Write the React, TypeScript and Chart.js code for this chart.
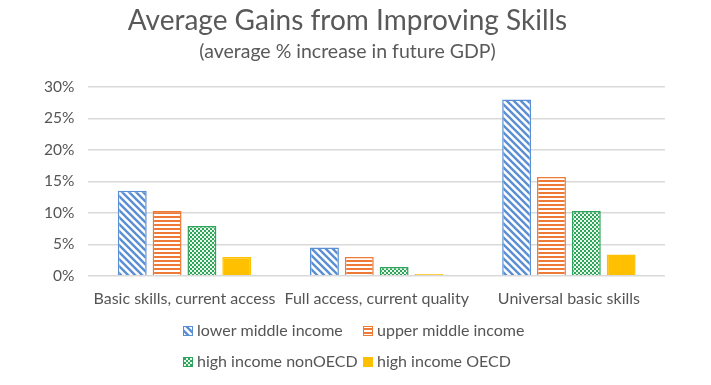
import React, { useEffect, useRef } from "react";
import { Chart, registerables } from "chart.js";

Chart.register(...registerables);

const categories = [
  "Basic skills, current access",
  "Full access, current quality",
  "Universal basic skills",
];
const seriesNames = [
  "lower middle income",
  "upper middle income",
  "high income nonOECD",
  "high income OECD",
];
const lowerMiddle = [13.5, 4.5, 28.0];
const upperMiddle = [10.3, 3.0, 15.7];
const highNonOECD = [7.9, 1.4, 10.3];
const highOECD = [3.0, 0.3, 3.4];
const yTicks = [0, 5, 10, 15, 20, 25, 30];

const FONT = "Lato, 'Open Sans', sans-serif";
const BLUE = "#5B8FD3";
const ORANGE = "#EE7A35";
const GREEN = "#2FA45A";
const YELLOW = "#FFC000";

function makePattern(kind: string): CanvasPattern | string {
  const c = document.createElement("canvas");
  const ctx = c.getContext("2d")!;
  if (kind === "diag") {
    const s = 7;
    c.width = s;
    c.height = s;
    ctx.fillStyle = "#fff";
    ctx.fillRect(0, 0, s, s);
    ctx.strokeStyle = BLUE;
    ctx.lineWidth = 2.4;
    ctx.beginPath();
    ctx.moveTo(-1, -1);
    ctx.lineTo(s + 1, s + 1);
    ctx.moveTo(-1, s - 1);
    ctx.lineTo(1, s + 1);
    ctx.moveTo(s - 1, -1);
    ctx.lineTo(s + 1, 1);
    ctx.stroke();
  } else if (kind === "horiz") {
    c.width = 4;
    c.height = 4;
    ctx.fillStyle = "#fff";
    ctx.fillRect(0, 0, 4, 4);
    ctx.fillStyle = ORANGE;
    ctx.fillRect(0, 0, 4, 2);
  } else if (kind === "check") {
    c.width = 4;
    c.height = 4;
    ctx.fillStyle = GREEN;
    ctx.fillRect(0, 0, 4, 4);
    ctx.fillStyle = "#e8f6ec";
    ctx.fillRect(0, 0, 2, 2);
    ctx.fillRect(2, 2, 2, 2);
  } else {
    return YELLOW;
  }
  return ctx.createPattern(c, "repeat")!;
}

export default function App() {
  const ref = useRef<HTMLCanvasElement>(null);

  useEffect(() => {
    document.body.style.margin = "0";
    const fills = [
      makePattern("diag"),
      makePattern("horiz"),
      makePattern("check"),
      makePattern("solid"),
    ];
    const borders = [BLUE, ORANGE, GREEN, YELLOW];
    const values = [lowerMiddle, upperMiddle, highNonOECD, highOECD];

    const legendPlugin = {
      id: "gridLegend",
      afterDraw(chart: any) {
        const ctx = chart.ctx as CanvasRenderingContext2D;
        const colX = [183, 363];
        const rowY = [331, 362];
        ctx.save();
        ctx.font = `16px ${FONT}`;
        ctx.textBaseline = "middle";
        seriesNames.forEach((name, i) => {
          const x = colX[i % 2];
          const y = rowY[Math.floor(i / 2)];
          ctx.fillStyle = fills[i] as any;
          ctx.fillRect(x, y - 5, 10, 10);
          ctx.strokeStyle = borders[i];
          ctx.lineWidth = 1;
          ctx.strokeRect(x + 0.5, y - 4.5, 9, 9);
          ctx.fillStyle = "#555555";
          ctx.fillText(name, x + 14, y);
        });
        ctx.restore();
      },
    };

    const chart = new Chart(ref.current!, {
      type: "bar",
      data: {
        labels: categories,
        datasets: seriesNames.map((name, i) => ({
          label: name,
          data: values[i],
          backgroundColor: fills[i] as any,
          borderColor: borders[i],
          borderWidth: 1.5,
          categoryPercentage: 0.725,
          barPercentage: 0.83,
        })),
      },
      options: {
        responsive: false,
        animation: false,
        layout: { padding: { left: 30, right: 46, top: 4, bottom: 72 } },
        plugins: {
          legend: { display: false },
          tooltip: { enabled: false },
          title: {
            display: true,
            text: "Average Gains from Improving Skills",
            color: "#595959",
            font: { family: FONT, size: 28, weight: "normal" },
            padding: { top: 0, bottom: 2 },
          },
          subtitle: {
            display: true,
            text: "(average % increase in future GDP)",
            color: "#595959",
            font: { family: FONT, size: 19.5, weight: "normal" },
            padding: { top: 0, bottom: 24 },
          },
        },
        scales: {
          x: {
            grid: { display: false },
            border: { display: false },
            ticks: {
              color: "#555555",
              font: { family: FONT, size: 16 },
              padding: 5,
              maxRotation: 0,
              autoSkip: false,
            },
          },
          y: {
            min: 0,
            max: 30,
            afterBuildTicks: (axis: any) => {
              axis.ticks = yTicks.map((v) => ({ value: v }));
            },
            grid: { color: "#D9D9D9", lineWidth: 1.4, drawTicks: false },
            border: { display: false },
            ticks: {
              color: "#555555",
              font: { family: FONT, size: 15.5 },
              padding: 14,
              callback: (v: any) => `${v}%`,
            },
          },
        },
      },
      plugins: [legendPlugin],
    });
    return () => chart.destroy();
  }, []);

  return <canvas ref={ref} width={711} height={385} style={{ display: "block" }} />;
}
